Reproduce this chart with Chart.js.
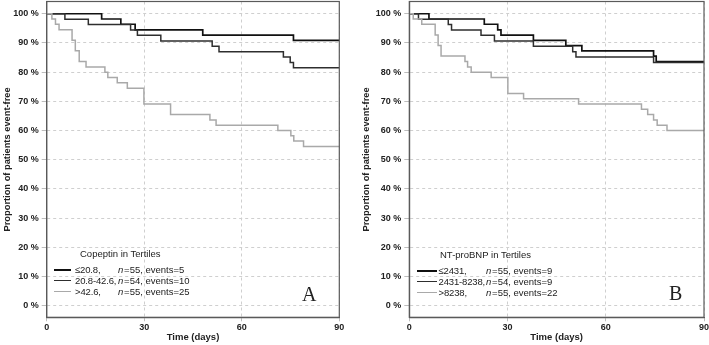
<!DOCTYPE html>
<html>
<head>
<meta charset="utf-8">
<script src="https://cdn.jsdelivr.net/npm/chart.js@4.4.1/dist/chart.umd.min.js"></script>
<style>
  body { margin: 0; background: #fff; }
  #wrap { position: relative; width: 709px; height: 345px; overflow: hidden; font-family: "Liberation Sans", Arial, sans-serif; color: #222; }
  .panel { position: absolute; top: 0; }
  .leg { position: absolute; font-size: 9.5px; line-height: 11px; white-space: nowrap; }
  .leg .ttl { position: absolute; top: -6px; }
  .row { position: absolute; height: 11px; }
  .row .ln { position: absolute; left: 0; top: 5px; }
  .row .lab { position: absolute; top: 0; letter-spacing: -0.15px; }
  .row .n { position: absolute; top: 0; }
  .letter { position: absolute; font-family: "Liberation Serif", "Times New Roman", serif; font-size: 20px; line-height: 20px; }
</style>
</head>
<body>
<div id="wrap">
  <canvas id="chartA" class="panel" style="left:0" width="355" height="345"></canvas>
  <canvas id="chartB" class="panel" style="left:355px" width="354" height="345"></canvas>
  <div id="legA" class="leg"></div>
  <div id="legB" class="leg"></div>
  <div class="letter" style="left:302px; top:284px">A</div>
  <div class="letter" style="left:669px; top:283px">B</div>
</div>
<script>
// x axis ticks (days) and y axis ticks (%)
const dayTicks = [0, 30, 60, 90];
const pctTicks = [0, 10, 20, 30, 40, 50, 60, 70, 80, 90, 100];

// Panel A: copeptin tertiles (time in days, % event-free after each step)
const copLowT = [0, 16.9, 22.8, 27.2, 48.0, 75.9, 90];
const copLowS = [100, 98.2, 96.4, 94.5, 92.7, 90.9, 90.9];
const copMidT = [0, 5.6, 12.8, 25.8, 27.9, 35.1, 50.9, 53.0, 72.8, 74.9, 75.9, 90];
const copMidS = [100, 98.1, 96.3, 94.4, 92.6, 90.7, 88.9, 87.0, 85.2, 83.3, 81.5, 81.5];
const copHighT = [0, 1.6, 2.7, 3.8, 7.8, 8.8, 10.0, 12.1, 17.9, 18.8, 21.7, 24.8, 29.9, 38.1, 50.2, 52.1, 71.1, 75.1, 76.0, 79.0, 90];
const copHighS = [100, 98.2, 96.4, 94.5, 90.9, 87.3, 83.6, 81.8, 80.0, 78.2, 76.4, 74.5, 69.1, 65.5, 63.6, 61.8, 60.0, 58.2, 56.4, 54.5, 54.5];

// Panel B: NT-proBNP tertiles
const bnpLowT = [0, 6.0, 22.9, 27.0, 28.0, 37.9, 47.8, 52.7, 74.6, 75.4, 90];
const bnpLowS = [100, 98.2, 96.4, 94.5, 92.7, 90.9, 89.1, 87.3, 85.5, 83.6, 83.6];
const bnpMidT = [0, 2.8, 11.9, 12.9, 21.9, 26.0, 37.9, 49.9, 50.9, 74.6, 90];
const bnpMidS = [100, 98.1, 96.3, 94.4, 92.6, 90.7, 88.9, 87.0, 85.2, 83.3, 83.3];
const bnpHighT = [0, 1.2, 3.8, 7.9, 8.8, 9.7, 17.0, 17.8, 18.9, 25.0, 30.1, 34.9, 51.7, 70.9, 72.8, 74.6, 75.7, 78.7, 90];
const bnpHighS = [100, 98.2, 96.4, 92.7, 89.1, 85.5, 83.6, 81.8, 80.0, 78.2, 72.7, 70.9, 69.1, 67.3, 65.5, 63.6, 61.8, 60.0, 60.0];

// legend texts
const copLabels = ['\u226420.8,', '20.8-42.6,', '>42.6,'];
const copN = [55, 54, 55];
const copEvents = [5, 10, 25];
const bnpLabels = ['\u22642431,', '2431-8238,', '>8238,'];
const bnpN = [55, 54, 55];
const bnpEvents = [9, 9, 22];

const colors = ['#111111', '#2e2e2e', '#a9a9a9'];
const widths = [1.7, 1.5, 1.5];
const FONT = '"Liberation Sans", Arial, sans-serif';

const toPoints = (t, s) => t.map((x, i) => ({ x: x, y: s[i] }));

// draws the box round the plot area
const framePlugin = {
  id: 'frame',
  afterDraw(chart) {
    const { ctx, chartArea: a } = chart;
    ctx.save();
    ctx.strokeStyle = '#5a5a5a';
    ctx.lineWidth = 1.2;
    ctx.strokeRect(a.left, a.top, a.right - a.left, a.bottom - a.top);
    ctx.restore();
  }
};

function makeChart(id, series, yAxisWidth, padRight, titlePad) {
  const ctx = document.getElementById(id).getContext('2d');
  return new Chart(ctx, {
    type: 'line',
    data: {
      datasets: series.map((s, i) => ({
        data: toPoints(s[0], s[1]),
        borderColor: colors[i],
        borderWidth: widths[i],
        stepped: true,
        pointRadius: 0,
        fill: false
      })).reverse()
    },
    options: {
      responsive: false,
      animation: false,
      devicePixelRatio: 1,
      layout: { padding: { top: 1.5, right: padRight, left: 0, bottom: 0 } },
      plugins: { legend: { display: false }, tooltip: { enabled: false } },
      scales: {
        x: {
          type: 'linear',
          min: 0,
          max: 90,
          afterBuildTicks: (scale) => { scale.ticks = dayTicks.map(v => ({ value: v })); },
          afterFit: (scale) => { scale.height = 27.7; scale.paddingLeft = 0; scale.paddingRight = 0; },
          ticks: { color: '#222', padding: 1, maxRotation: 0, font: { family: FONT, size: 9, weight: 'bold' } },
          grid: { color: '#cfcfcf', lineWidth: 1, tickLength: 4, tickColor: '#bdbdbd' },
          border: { color: '#5a5a5a', width: 1.2, dash: [3, 3] },
          title: { display: true, text: 'Time (days)', color: '#222', padding: { top: 0, bottom: 1.5 }, font: { family: FONT, size: 9.5, weight: 'bold' } }
        },
        y: {
          min: -4,
          max: 104.2,
          afterBuildTicks: (scale) => { scale.ticks = pctTicks.map(v => ({ value: v })); },
          afterFit: (scale) => { scale.width = yAxisWidth; scale.paddingTop = 0; scale.paddingBottom = 0; },
          ticks: { color: '#222', padding: 3, callback: (v) => v + ' %', font: { family: FONT, size: 9, weight: 'bold' } },
          grid: { color: '#cfcfcf', lineWidth: 1, tickLength: 5, tickColor: '#bdbdbd' },
          border: { color: '#5a5a5a', width: 1.2, dash: [3, 3] },
          title: { display: true, text: 'Proportion of patients event-free', color: '#222', padding: { top: titlePad, bottom: 0 }, font: { family: FONT, size: 9.3, weight: 'bold' } }
        }
      }
    },
    plugins: [framePlugin]
  });
}

makeChart('chartA', [[copLowT, copLowS], [copMidT, copMidS], [copHighT, copHighS]], 46.7, 15.7, 1.5);
makeChart('chartB', [[bnpLowT, bnpLowS], [bnpMidT, bnpMidS], [bnpHighT, bnpHighS]], 54.3, 5, 5.5);

// legend blocks
function buildLegend(id, pos, title, labels, ns, events) {
  const el = document.getElementById(id);
  el.style.left = pos.left + 'px';
  el.style.top = pos.top + 'px';
  let html = '<div class="ttl" style="left:' + pos.titleX + 'px">' + title + '</div>';
  labels.forEach((lab, i) => {
    html += '<div class="row" style="top:' + (9.5 + i * 11.3) + 'px">' +
      '<div class="ln" style="width:' + pos.lineW + 'px;border-top:' + (i === 0 ? 2.2 : 1.8) + 'px solid ' + colors[i] + '"></div>' +
      '<span class="lab" style="left:' + pos.textX + 'px">' + lab + '</span>' +
      '<span class="n" style="left:' + pos.nX + 'px"><i>n</i>&#8202;=' + ns[i] + ', events=' + events[i] + '</span>' +
      '</div>';
  });
  el.innerHTML = html;
}

buildLegend('legA', { left: 54, top: 254, titleX: 26, lineW: 17, textX: 21, nX: 64 }, 'Copeptin in Tertiles', copLabels, copN, copEvents);
buildLegend('legB', { left: 417, top: 255, titleX: 23, lineW: 19.5, textX: 21.5, nX: 69 }, 'NT-proBNP in Tertiles', bnpLabels, bnpN, bnpEvents);
</script>
</body>
</html>
